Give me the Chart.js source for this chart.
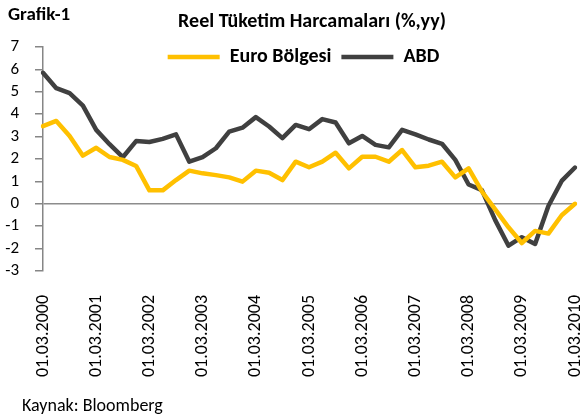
<!DOCTYPE html>
<html>
<head>
<meta charset="utf-8">
<script src="https://cdn.jsdelivr.net/npm/chart.js@4"></script>
<style>
html,body{margin:0;padding:0;background:#fff;}
#wrap{width:580px;height:418px;position:relative;}
</style>
</head>
<body>
<div id="wrap"><canvas id="c" width="580" height="418"></canvas></div>
<script>
const categories = [
 "01.03.2000","01.06.2000","01.09.2000","01.12.2000",
 "01.03.2001","01.06.2001","01.09.2001","01.12.2001",
 "01.03.2002","01.06.2002","01.09.2002","01.12.2002",
 "01.03.2003","01.06.2003","01.09.2003","01.12.2003",
 "01.03.2004","01.06.2004","01.09.2004","01.12.2004",
 "01.03.2005","01.06.2005","01.09.2005","01.12.2005",
 "01.03.2006","01.06.2006","01.09.2006","01.12.2006",
 "01.03.2007","01.06.2007","01.09.2007","01.12.2007",
 "01.03.2008","01.06.2008","01.09.2008","01.12.2008",
 "01.03.2009","01.06.2009","01.09.2009","01.12.2009",
 "01.03.2010"
];
const euroBolgesi = [3.47,3.70,3.03,2.15,2.50,2.09,1.96,1.69,0.60,0.60,
 1.06,1.48,1.36,1.28,1.18,0.99,1.48,1.39,1.06,1.88,
 1.63,1.88,2.28,1.58,2.10,2.10,1.88,2.40,1.63,1.70,
 1.88,1.18,1.58,0.55,-0.25,-1.05,-1.75,-1.21,-1.33,-0.51,0.00];
const abd = [5.85,5.16,4.94,4.38,3.30,2.66,2.08,2.80,2.76,2.90,
 3.10,1.88,2.08,2.48,3.22,3.40,3.87,3.45,2.93,3.52,
 3.33,3.78,3.63,2.70,3.03,2.63,2.52,3.30,3.10,2.87,
 2.68,1.96,0.86,0.61,-0.73,-1.87,-1.49,-1.79,-0.10,1.02,1.62];
const yTicks = [7,6,5,4,3,2,1,0,-1,-2,-3];

const FONT = "Carlito, Lato, 'Liberation Sans', sans-serif";

const textPlugin = {
  id: 'texts',
  afterLayout(chart) {
    const lg = chart.legend;
    if (lg) {
      lg.top = 37; lg.bottom = 37 + 40;
      lg.height = 40;
      lg.left += 16; lg.right += 16;
    }
  },
  afterDraw(chart) {
    const ctx = chart.ctx;
    ctx.save();
    ctx.fillStyle = '#000';
    ctx.textBaseline = 'alphabetic';
    ctx.textAlign = 'left';
    ctx.font = "bold 19px " + FONT;
    ctx.fillText('Grafik-1', 8, 20);
    ctx.textAlign = 'center';
    ctx.font = "bold 20px " + FONT;
    ctx.fillText('Reel Tüketim Harcamaları (%,yy)', 312, 27);
    ctx.textAlign = 'left';
    ctx.font = "18px " + FONT;
    ctx.fillText('Kaynak: Bloomberg', 22, 411);
    ctx.restore();
  }
};

new Chart(document.getElementById('c'), {
  type: 'line',
  data: {
    labels: categories,
    datasets: [
      { label: 'Euro Bölgesi', data: euroBolgesi, borderColor: '#FFC000', backgroundColor: '#FFC000',
        borderWidth: 4.5, pointRadius: 0, tension: 0, borderJoinStyle: 'round', borderCapStyle: 'round' },
      { label: 'ABD', data: abd, borderColor: '#404040', backgroundColor: '#404040',
        borderWidth: 4.5, pointRadius: 0, tension: 0, borderJoinStyle: 'round', borderCapStyle: 'round' }
    ]
  },
  options: {
    responsive: false,
    animation: false,
    layout: { padding: { top: 46, right: 5, left: 0, bottom: 0 } },
    plugins: {
      legend: {
        position: 'top',
        align: 'center',
        maxHeight: 1,
        labels: {
          usePointStyle: true,
          pointStyle: 'line',
          pointStyleWidth: 52,
          boxHeight: 4,
          padding: 10,
          color: '#000',
          font: { family: FONT, size: 20, weight: 'bold' }
        }
      },
      tooltip: { enabled: false }
    },
    scales: {
      x: {
        type: 'category',
        offset: false,
        grid: { display: false },
        border: { display: false },
        ticks: {
          autoSkip: false,
          maxRotation: 90,
          minRotation: 90,
          padding: 16,
          color: '#000',
          font: { family: FONT, size: 18 },
          callback: function(v, i) { return i % 4 === 0 ? categories[i] : ''; }
        },
        afterFit(s) { s.height = 147; s.paddingLeft = 0; s.paddingRight = 0; }
      },
      y: {
        min: -3, max: 7,
        afterBuildTicks(s) { s.ticks = yTicks.map(v => ({ value: v })); },
        grid: {
          drawOnChartArea: true,
          drawTicks: true,
          tickLength: 8,
          tickColor: '#868686',
          lineWidth: 1.5,
          color: c => (c.tick && c.tick.value === 0) ? '#8c8c8c' : 'rgba(0,0,0,0)'
        },
        border: { display: true, color: '#868686', width: 1.5 },
        ticks: {
          autoSkip: false,
          padding: 16,
          color: '#000',
          font: { family: FONT, size: 17 }
        },
        afterFit(s) { s.width = 43; s.paddingTop = 0; s.paddingBottom = 0; }
      }
    }
  },
  plugins: [textPlugin]
});
</script>
</body>
</html>
